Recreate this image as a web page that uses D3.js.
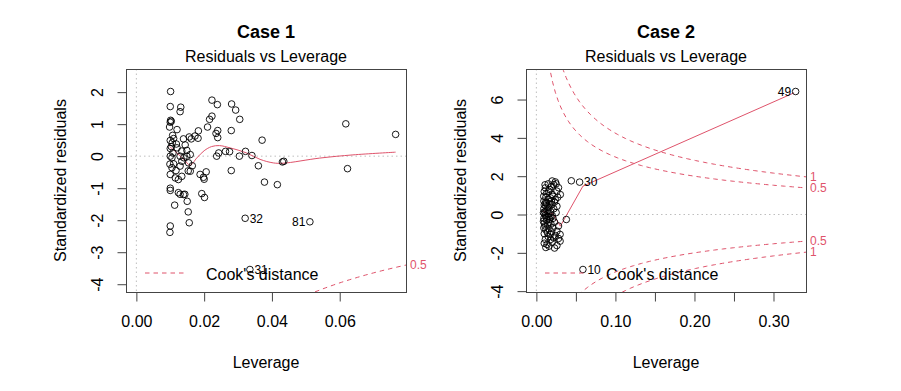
<!DOCTYPE html>
<html><head><meta charset="utf-8">
<script src="https://cdn.jsdelivr.net/npm/d3@7"></script>
<style>
body{margin:0;background:#fff}
text{font-family:"Liberation Sans",Arial,Helvetica,sans-serif;fill:#000}
</style>
</head><body>
<svg id="chart" width="901" height="391"></svg>
<script>
// ---------- DATA ----------
const titles = ["Case 1", "Case 2"];
const subtitle = "Residuals vs Leverage";
const xAxisTitle = "Leverage";
const yAxisTitle = "Standardized residuals";
const legendText = "Cook's distance";
const cookLevels = [0.5, 1];
const modelRank = 2;

// Case 1: [leverage, standardized residual]
const case1Points = [
 [0.0101,2.02],[0.0100,1.55],[0.0131,1.53],[0.0129,1.39],[0.0101,1.12],[0.0103,1.09],[0.0100,1.06],
 [0.0098,0.91],[0.0120,0.83],[0.0107,0.65],[0.0100,0.49],[0.0106,0.42],[0.0139,0.54],[0.0156,0.60],
 [0.0162,0.54],[0.0182,0.56],[0.0183,0.79],[0.0223,1.75],[0.0239,1.61],[0.0223,1.25],[0.0216,1.15],
 [0.0210,0.91],[0.0240,0.80],[0.0235,0.71],[0.0240,0.58],[0.0281,1.63],[0.0293,1.44],[0.0305,1.15],
 [0.0280,0.80],[0.0371,0.50],[0.0618,1.01],[0.0765,0.68],[0.0623,-0.39],[0.0237,0.00],[0.0243,0.10],
 [0.0263,0.15],[0.0275,0.14],[0.0304,0.00],[0.0322,0.15],[0.0341,0.02],[0.0360,-0.30],[0.0431,-0.18],
 [0.0435,-0.16],[0.0280,-0.45],[0.0378,-0.81],[0.0416,-0.89],[0.0206,-0.49],[0.0188,-0.57],
 [0.0198,-0.66],[0.0200,-0.72],[0.0193,-1.17],[0.0201,-1.29],[0.0153,-0.46],[0.0100,-1.07],
 [0.0113,-1.53],[0.0129,-1.19],[0.0143,-1.19],[0.0150,-1.41],[0.0153,-1.74],[0.0156,-2.08],
 [0.0100,-2.18],[0.0099,-2.38],[0.0100,0.24],[0.0120,0.26],[0.0134,0.16],[0.0149,0.18],[0.0129,0.00],
 [0.0149,0.00],[0.0159,0.05],[0.0105,-0.05],[0.0110,-0.24],[0.0134,-0.16],[0.0154,-0.21],
 [0.0105,-0.36],[0.0129,-0.31],[0.0159,-0.47],[0.0100,-0.57],[0.0115,-0.68],[0.0124,-0.73],
 [0.0134,-0.63],[0.0100,-1.00],[0.0124,-1.14],[0.0139,-1.20],[0.0103,0.30],[0.0108,0.10],
 [0.0144,0.35],[0.0117,-0.45],[0.0100,0.00],[0.0110,0.55],[0.0173,0.63],[0.0099,-0.25],
 [0.0140,-0.05],[0.0118,0.38],[0.0165,-0.30]
];
const case1Labeled = [[0.0321,-1.94,"32"],[0.0512,-2.05,"81"],[0.0335,-3.54,"31"]];
const case1Smooth = [
 [0.0098,0.30],[0.0120,0.10],[0.0140,-0.10],[0.0159,-0.28],[0.0178,-0.06],[0.0200,0.17],
 [0.0222,0.30],[0.0245,0.33],[0.0276,0.26],[0.0325,0.10],[0.0365,-0.10],[0.0404,-0.21],
 [0.0433,-0.22],[0.0541,-0.06],[0.0639,0.04],[0.0765,0.125]
];
const case1XTicks = [0, 0.02, 0.04, 0.06];
const case1XLabels = ["0.00","0.02","0.04","0.06"];
const case1YTicks = [-4,-3,-2,-1,0,1,2];

// Case 2
const case2Points = [
 [0.0219,1.56],[0.0114,1.39],[0.0156,1.22],[0.0260,1.22],[0.0303,1.04],[0.0093,0.95],[0.0177,0.87],
 [0.0240,0.78],[0.0114,0.61],[0.0198,0.52],[0.0260,0.43],[0.0240,1.70],[0.0190,1.45],[0.0130,1.10],
 [0.0100,1.20],[0.0280,1.40],[0.0200,1.05],[0.0150,0.80],[0.0095,0.70],[0.0120,0.45],[0.0160,0.35],
 [0.0095,0.30],[0.0135,0.20],[0.0180,0.15],[0.0100,0.05],[0.0115,-0.05],[0.0150,-0.10],[0.0095,-0.20],
 [0.0130,-0.30],[0.0170,-0.25],[0.0210,-0.20],[0.0100,-0.45],[0.0140,-0.55],[0.0185,-0.50],
 [0.0230,-0.40],[0.0095,-0.70],[0.0120,-0.80],[0.0160,-0.75],[0.0210,-0.70],[0.0260,-0.87],
 [0.0300,-1.04],[0.0219,-1.22],[0.0114,-1.30],[0.0135,-1.56],[0.0260,-1.62],[0.0300,-1.39],
 [0.0177,-1.04],[0.0100,-1.00],[0.0150,-1.15],[0.0200,-1.45],[0.0120,-1.72],[0.0240,-1.10],
 [0.0280,-0.60],[0.0250,0.10],[0.0220,0.30],[0.0210,0.95],[0.0170,1.30],[0.0120,0.90],[0.0100,0.50],
 [0.0130,0.60],[0.0170,0.55],[0.0150,0.05],[0.0200,-0.05],[0.0110,0.15],[0.0160,-0.40],[0.0090,-0.35],
 [0.0110,-0.60],[0.0190,-0.90],[0.0140,-0.95],[0.0230,0.65],[0.0270,0.90],[0.0110,1.55],[0.0150,1.60],
 [0.0200,1.75],[0.0250,1.60],[0.0180,-1.30],[0.0100,-1.50],[0.0160,-1.65],[0.0230,-1.75],
 [0.0280,-1.25],[0.0090,0.10],[0.0125,-0.15],[0.0145,0.40],[0.0190,0.70],[0.0175,-0.15],
 [0.0379,-0.26],[0.0442,1.76]
];
const case2Labeled = [[0.328,6.42,"49"],[0.0547,1.69,"30"],[0.0589,-2.87,"10"]];
const case2Smooth = [
 [0.0084,0.17],[0.0135,0.09],[0.0168,0.00],[0.0198,0.09],[0.0240,-0.17],[0.0303,-0.61],
 [0.0589,1.48],[0.3260,6.35]
];
const case2XTicks = [0,0.05,0.10,0.15,0.20,0.25,0.30];
const case2XLabels = ["0.00","","0.10","","0.20","","0.30"];
const case2YTicks = [-4,-2,0,2,4,6];

// ---------- DRAW ----------
const svg = d3.select("#chart");
const RED = "#DF536B";
const AX = "#444";

function panel(cfg) {
  const {x0, x1, y0, y1} = cfg.box;
  const g = svg.append("g");
  const allPts = cfg.points.concat(cfg.labeled.map(d => [d[0], d[1]]));
  const hmax = d3.max(allPts, d => d[0]);
  const hmin = d3.min(allPts, d => d[0]);
  const xe = 0.04 * hmax;
  const x = d3.scaleLinear().domain([-xe, hmax + xe]).range([x0, x1]);
  let rmin = d3.min(allPts, d => d[1]), rmax = d3.max(allPts, d => d[1]);
  let d1 = (rmax - rmin) * 0.08; rmin -= d1; rmax += d1;
  let d2 = (rmax - rmin) * 0.04;
  const y = d3.scaleLinear().domain([rmin - d2, rmax + d2]).range([y1, y0]);

  const clipId = "clip" + cfg.id;
  svg.append("clipPath").attr("id", clipId).append("rect")
    .attr("x", x0).attr("y", y0).attr("width", x1 - x0).attr("height", y1 - y0);

  // titles
  const cx = (x0 + x1) / 2;
  g.append("text").attr("x", cx).attr("y", 37.5).attr("text-anchor", "middle")
    .style("font-size", "18px").style("font-weight", "bold").text(cfg.title);
  g.append("text").attr("x", cx).attr("y", 61.5).attr("text-anchor", "middle")
    .style("font-size", "16px").text(subtitle);

  // reference lines
  const inner = g.append("g").attr("clip-path", `url(#${clipId})`);
  inner.append("line").attr("x1", x0).attr("x2", x1).attr("y1", y(0)).attr("y2", y(0))
    .attr("stroke", "#bebebe").attr("stroke-dasharray", "1.5,3");
  inner.append("line").attr("x1", x(0)).attr("x2", x(0)).attr("y1", y0).attr("y2", y1)
    .attr("stroke", "#bebebe").attr("stroke-dasharray", "1.5,3");

  // Cook's distance contours
  const hh = d3.range(101).map(i => hmin / 100 + (x.domain()[1] - hmin / 100) * i / 100);
  const cl = d3.line().x(d => x(d[0])).y(d => y(d[1]));
  cookLevels.forEach(crit => {
    [1, -1].forEach(s => {
      const pts = hh.map(h => [h, s * Math.sqrt(crit * modelRank * (1 - h) / h)]);
      inner.append("path").attr("d", cl(pts)).attr("fill", "none")
        .attr("stroke", RED).attr("stroke-dasharray", "4.5,4");
    });
  });

  // points
  g.append("g").selectAll("circle").data(allPts).join("circle")
    .attr("cx", d => x(d[0])).attr("cy", d => y(d[1])).attr("r", 3.3)
    .attr("fill", "none").attr("stroke", "#000").attr("stroke-width", 0.9);

  // smooth
  inner.append("path").attr("d", d3.line().x(d => x(d[0])).y(d => y(d[1])).curve(cfg.curve)(cfg.smooth))
    .attr("fill", "none").attr("stroke", RED).attr("stroke-width", 1);

  // id labels
  const xm = (hmin + hmax) / 2;
  g.append("g").selectAll("text").data(cfg.labeled).join("text")
    .attr("x", d => d[0] > xm ? x(d[0]) - 4.5 : x(d[0]) + 4.5)
    .attr("y", d => y(d[1])).attr("dy", "0.36em")
    .attr("text-anchor", d => d[0] > xm ? "end" : "start")
    .style("font-size", "12px").text(d => d[2]);

  // legend
  const ly = y1 - 19;
  g.append("line").attr("x1", x0 + 19).attr("x2", x0 + 58).attr("y1", ly).attr("y2", ly)
    .attr("stroke", RED).attr("stroke-dasharray", "4.5,4");
  g.append("text").attr("x", x0 + 80).attr("y", ly + 6.5).style("font-size", "16px").text(legendText);

  // right axis with Cook levels
  const xmax = Math.min(0.99, x.domain()[1]);
  const ymult = Math.sqrt(modelRank * (1 - xmax) / xmax);
  const aty = cookLevels.map(c => Math.sqrt(c) * ymult);
  const atAll = aty.map(v => -v).reverse().concat(aty);
  const labAll = cookLevels.slice().reverse().concat(cookLevels).map(String);
  const vis = atAll.map((v, i) => [v, labAll[i]]).filter(d => d[0] >= y.domain()[0] && d[0] <= y.domain()[1]);
  if (vis.length > 1) {
    g.append("line").attr("x1", x1 + 0.5).attr("x2", x1 + 0.5)
      .attr("y1", y(d3.min(vis, d => d[0]))).attr("y2", y(d3.max(vis, d => d[0])))
      .attr("stroke", "#000");
  }
  g.append("g").selectAll("text").data(vis).join("text")
    .attr("x", x1 + 4).attr("y", d => y(d[0])).attr("dy", "0.36em")
    .style("font-size", "12px").style("fill", RED).text(d => d[1]);

  // box
  g.append("rect").attr("x", x0 + 0.5).attr("y", y0 + 0.5).attr("width", x1 - x0).attr("height", y1 - y0)
    .attr("fill", "none").attr("stroke", AX);

  // x axis
  const xa = g.append("g").attr("transform", `translate(0,${y1 + 0.5})`)
    .call(d3.axisBottom(x).tickValues(cfg.xTicks).tickSize(9).tickSizeOuter(0).tickPadding(14)
      .tickFormat((d, i) => cfg.xLabels[i]));
  xa.select(".domain").attr("stroke", AX).attr("d", `M${x(cfg.xTicks[0])},0H${x(cfg.xTicks[cfg.xTicks.length-1])}`);
  xa.selectAll(".tick line").attr("stroke", AX);
  xa.selectAll(".tick text").style("font-size", "16px").style("font-family", null).attr("fill", "#000");

  // y axis
  const ya = g.append("g").attr("transform", `translate(${x0 + 0.5},0)`)
    .call(d3.axisLeft(y).tickValues(cfg.yTicks).tickSize(9).tickSizeOuter(0).tickFormat(d3.format("d")));
  ya.select(".domain").attr("stroke", AX).attr("d", `M0,${y(cfg.yTicks[0])}V${y(cfg.yTicks[cfg.yTicks.length-1])}`);
  ya.selectAll(".tick line").attr("stroke", AX);
  ya.selectAll(".tick text").attr("x", null).attr("dy", null).attr("text-anchor", "middle")
    .attr("transform", "translate(-23.5,0) rotate(-90)")
    .style("font-size", "16px").style("font-family", null).attr("fill", "#000")
    .text(d => d < 0 ? "-" + Math.abs(d) : String(d));
  g.selectAll(".tick text").style("font-family", '"Liberation Sans",Arial,Helvetica,sans-serif');

  // axis titles
  g.append("text").attr("x", cx).attr("y", 367.5).attr("text-anchor", "middle")
    .style("font-size", "16px").text(xAxisTitle);
  g.append("text").attr("transform", `translate(${x0 - 60},${(y0 + y1) / 2}) rotate(-90)`)
    .attr("text-anchor", "middle").style("font-size", "16px").text(yAxisTitle);
}

panel({id: 1, title: titles[0], box: {x0: 126, x1: 406, y0: 69, y1: 292},
  points: case1Points, labeled: case1Labeled, smooth: case1Smooth, curve: d3.curveCatmullRom,
  xTicks: case1XTicks, xLabels: case1XLabels, yTicks: case1YTicks});
panel({id: 2, title: titles[1], box: {x0: 526, x1: 806, y0: 69, y1: 292},
  points: case2Points, labeled: case2Labeled, smooth: case2Smooth, curve: d3.curveLinear,
  xTicks: case2XTicks, xLabels: case2XLabels, yTicks: case2YTicks});
</script>
</body></html>
